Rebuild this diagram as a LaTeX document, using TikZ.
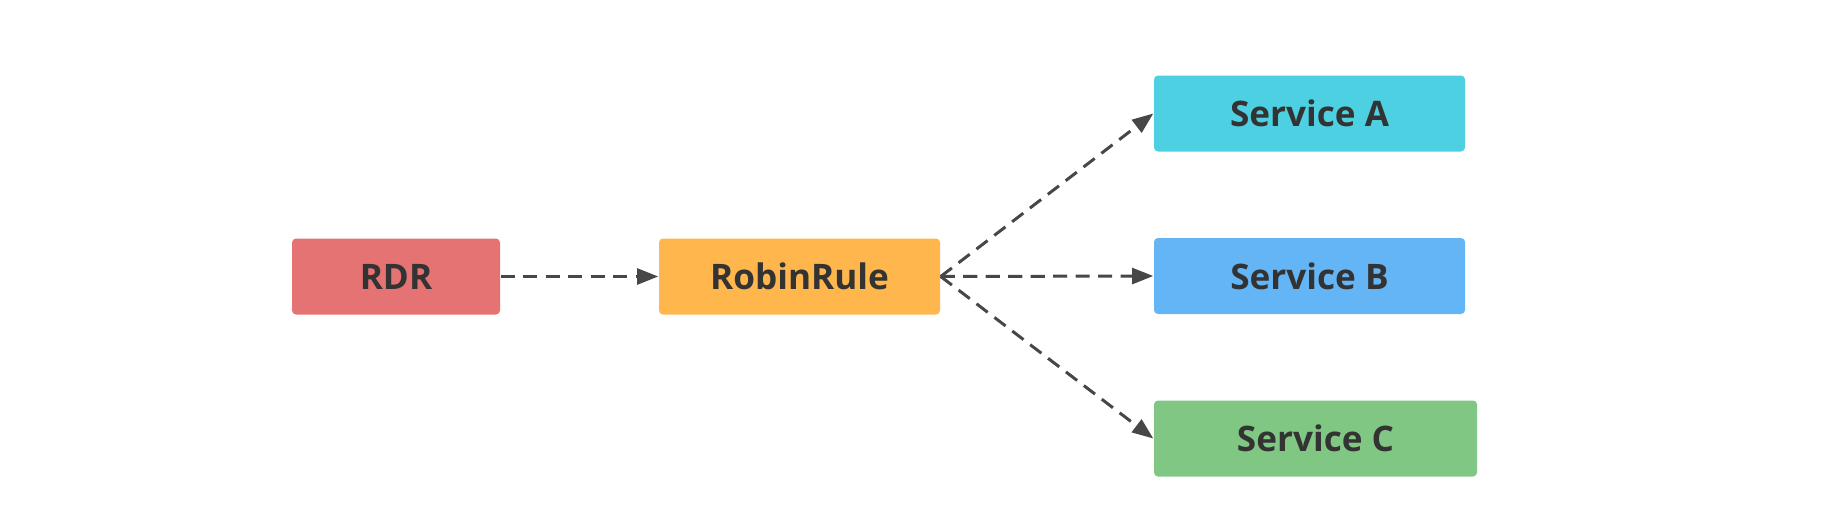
\documentclass[tikz,border=0pt]{standalone}
\usepackage{fontspec}
\setmainfont{Open Sans}
\usetikzlibrary{arrows.meta}

\definecolor{rdrred}{HTML}{E57373}
\definecolor{robinorange}{HTML}{FFB74D}
\definecolor{servcyan}{HTML}{4DD0E1}
\definecolor{servblue}{HTML}{64B5F6}
\definecolor{servgreen}{HTML}{81C784}
\definecolor{textgray}{HTML}{333333}

\begin{document}
\begin{tikzpicture}[
    box/.style={rounded corners=0.04cm, inner sep=0pt, minimum height=0.76cm,
                text=textgray, font=\bfseries\fontsize{10pt}{12pt}\selectfont},
    link/.style={draw=textgray!90, line width=0.85pt, dash pattern=on 4pt off 2.4pt,
                 -{Triangle[length=6pt,width=4.5pt]}}
]

    \useasboundingbox (0,0) rectangle (18.28,5.16);

    \node (rdr)   [box,fill=rdrred,minimum width=2.08cm]      at (3.96,2.395)  {RDR};
    \node (robin) [box,fill=robinorange,minimum width=2.81cm] at (7.995,2.395) {RobinRule};

    \node (srva) [box,fill=servcyan,minimum width=3.11cm]  at (13.095,4.025) {Service A};
    \node (srvb) [box,fill=servblue,minimum width=3.11cm]  at (13.095,2.40)  {Service B};
    \node (srvc) [box,fill=servgreen,minimum width=3.23cm] at (13.155,0.775) {Service C};

    \draw[link] (rdr.east) -- (robin.west);
    \draw[link] (robin.east) -- (srva.west);
    \draw[link] (robin.east) -- (srvb.west);
    \draw[link] (robin.east) -- (srvc.west);

\end{tikzpicture}
\end{document}
